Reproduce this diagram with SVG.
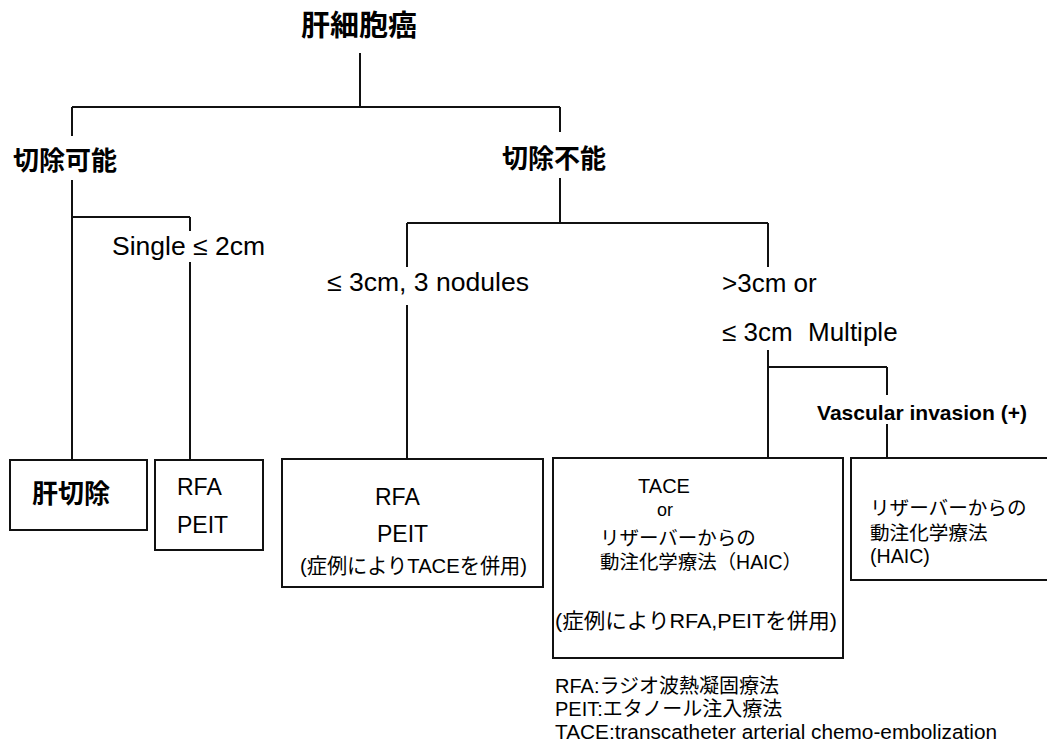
<svg xmlns="http://www.w3.org/2000/svg" width="1047" height="744" viewBox="0 0 1047 744">
<style>
.ln{stroke:#111;stroke-width:2;fill:none}
.box{fill:#fff;stroke:#111;stroke-width:2}
.t{font-family:"Liberation Sans","Noto Sans CJK JP",sans-serif;fill:#000}
.j{font-family:"Noto Sans CJK JP","Liberation Sans",sans-serif;fill:#000}
.b{font-weight:bold}
</style>
<rect width="1047" height="744" fill="#fff"/>
<g id="connectors">
<path class="ln" d="M360 53V107M72 107H560M72 107V136M560 107V132"/>
<path class="ln" d="M72 180V460M72 217H190M190 217V231M190 262V460"/>
<path class="ln" d="M560 178V223M407 223H768M407 223V267M407 305V459M768 223V267M768 350V458"/>
<path class="ln" d="M768 367H887M887 367V395M887 424V458"/>
</g>
<g id="root"><text class="j b" x="359" y="36" font-size="29" text-anchor="middle">肝細胞癌</text></g>
<g id="resectable"><text class="j b" x="13" y="170" font-size="26">切除可能</text></g>
<g id="unresectable"><text class="j b" x="502" y="168" font-size="26">切除不能</text></g>
<g id="single"><text class="t" x="112" y="255" font-size="26" textLength="153" lengthAdjust="spacingAndGlyphs">Single ≤ 2cm</text></g>
<g id="nodules"><text class="t" x="327" y="291" font-size="26" textLength="202" lengthAdjust="spacingAndGlyphs">≤ 3cm, 3 nodules</text></g>
<g id="multiple">
<text class="t" x="722" y="292" font-size="26">&gt;3cm or</text>
<text class="t" x="722" y="341" font-size="26">≤ 3cm<tspan x="808">Multiple</tspan></text>
</g>
<g id="vascular"><text class="t b" x="817" y="420" font-size="21" textLength="210" lengthAdjust="spacingAndGlyphs">Vascular invasion (+)</text></g>
<g id="box-hepatectomy">
<rect class="box" x="10" y="460" width="137" height="70"/>
<text class="j b" x="32" y="503" font-size="26">肝切除</text>
</g>
<g id="box-rfa-small">
<rect class="box" x="155" y="460" width="108" height="90"/>
<text class="t" x="177" y="495" font-size="23">RFA</text>
<text class="t" x="177" y="533" font-size="23">PEIT</text>
</g>
<g id="box-rfa-large">
<rect class="box" x="282" y="459" width="261" height="128"/>
<text class="t" x="375" y="505" font-size="23">RFA</text>
<text class="t" x="377" y="542" font-size="23">PEIT</text>
<text class="t" x="300" y="573" font-size="21" textLength="227" lengthAdjust="spacingAndGlyphs">(症例によりTACEを併用)</text>
</g>
<g id="box-tace">
<rect class="box" x="553" y="458" width="290" height="200"/>
<text class="t" x="664" y="493" font-size="20" text-anchor="middle">TACE</text>
<text class="t" x="665" y="516" font-size="18" text-anchor="middle">or</text>
<text class="t" x="600" y="545" font-size="19.5">リザーバーからの</text>
<text class="t" x="600" y="569" font-size="19.5" textLength="202" lengthAdjust="spacingAndGlyphs">動注化学療法（HAIC）</text>
<text class="t" x="555" y="628" font-size="21" textLength="282" lengthAdjust="spacingAndGlyphs">(症例によりRFA,PEITを併用)</text>
</g>
<g id="box-haic">
<rect class="box" x="851" y="458" width="210" height="122"/>
<text class="t" x="870" y="515" font-size="19.6">リザーバーからの</text>
<text class="t" x="870" y="540" font-size="19.6">動注化学療法</text>
<text class="t" x="870" y="563" font-size="19.6">(HAIC)</text>
</g>
<g id="legend">
<text class="t" x="555" y="693" font-size="20">RFA:ラジオ波熱凝固療法</text>
<text class="t" x="555" y="716" font-size="20">PEIT:エタノール注入療法</text>
<text class="t" x="555" y="739" font-size="20.5" textLength="442" lengthAdjust="spacingAndGlyphs">TACE:transcatheter arterial chemo-embolization</text>
</g>
</svg>
